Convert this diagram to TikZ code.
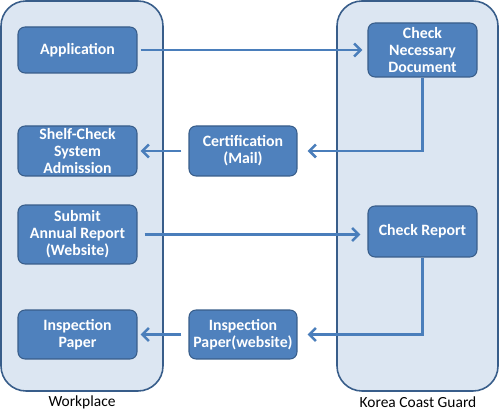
\documentclass[tikz,border=0pt]{standalone}
\usepackage{fontspec}
\setmainfont{Carlito}
\usetikzlibrary{arrows.meta,positioning}

\definecolor{boxblue}{HTML}{4F81BD}
\definecolor{boxline}{HTML}{385D8A}
\definecolor{panelfill}{HTML}{DCE6F2}
\definecolor{arrowblue}{HTML}{4A7EBB}

\begin{document}
\begin{tikzpicture}
  [x=0.02cm,y=-0.02cm,
   panel/.style={draw=boxline,fill=panelfill,line width=0.9pt,rounded corners=0.5cm},
   task/.style={rectangle,draw=boxline,fill=boxblue,line width=0.6pt,rounded corners=0.14cm,
                text=white,font=\fontsize{9}{9.6}\selectfont\bfseries,align=center,
                inner sep=0pt},
   flow/.style={draw=arrowblue,line width=1.5pt,
                -{Straight Barb[length=0.13cm,width=0.26cm,line width=1.5pt]}},
   caption/.style={font=\fontsize{8.8}{10}\selectfont}]
  \useasboundingbox (0,0) rectangle (500,411);
  % lanes
  \draw[panel] (1,1) rectangle (163,391);
  \draw[panel] (337,1) rectangle (498,391);
  \node (work) at (82,402) [caption] {Workplace};
  \node (kcg) at (418,402) [caption] {Korea Coast Guard};
  % workplace side
  \node (app) at (77.5,50) [task,minimum width=2.38cm,minimum height=0.92cm] {Application};
  \node (shelf) at (77.5,151) [task,minimum width=2.38cm,minimum height=1.0cm] {Shelf-Check\\System\\Admission};
  \node (submit) at (77.5,234.5) [task,minimum width=2.38cm,minimum height=1.18cm] {Submit\\Annual Report\\(Website)};
  \node (paper) at (77.5,334.5) [task,minimum width=2.38cm,minimum height=0.98cm] {Inspection\\Paper};
  % middle
  \node (cert) at (243,151) [task,minimum width=2.16cm,minimum height=1.0cm] {Certification\\(Mail)};
  \node (webpaper) at (243,334.5) [task,minimum width=2.16cm,minimum height=0.98cm] {Inspection\\Paper(website)};
  % coast guard side
  \node (doc) at (422.5,50) [task,minimum width=2.18cm,minimum height=1.08cm] {Check\\Necessary\\Document};
  \node (report) at (422.5,231.5) [task,minimum width=2.18cm,minimum height=1.02cm] {Check Report};
  % connectors
  \draw[flow,shorten <=0.06cm,shorten >=0.1cm] (app) -- (doc);
  \draw[flow,shorten <=0.14cm,shorten >=0.14cm] (submit) -- (report.west |- submit);
  \draw[flow,shorten >=0.2cm] (doc) |- (cert);
  \draw[flow,shorten >=0.2cm] (report) |- (webpaper);
  \draw[flow,shorten <=0.14cm,shorten >=0.06cm] (cert) -- (shelf);
  \draw[flow,shorten <=0.14cm,shorten >=0.06cm] (webpaper) -- (paper);
\end{tikzpicture}
\end{document}
